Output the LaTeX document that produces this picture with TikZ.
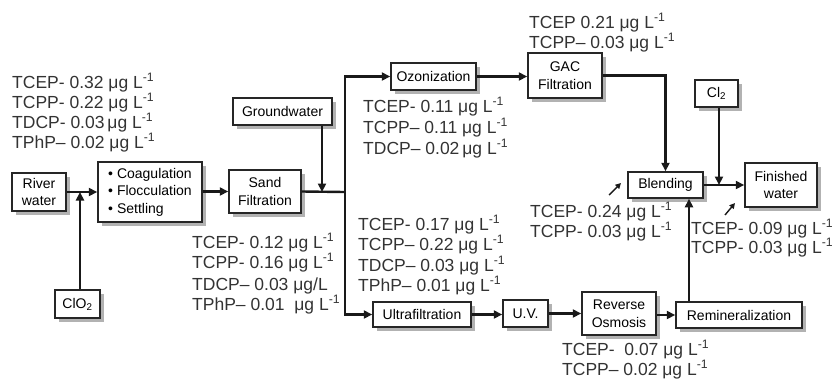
\documentclass[tikz,border=0pt]{standalone}
\usepackage{fontspec}
\setmainfont{Liberation Sans}
\usetikzlibrary{arrows.meta,shadows}
\newcommand\ugL{μg L\textsuperscript{-1}}
\newcommand\conc[4]{\node[lab] (#1) at (#2,#3) {#4};}
\begin{document}
\begin{tikzpicture}[x=1pt,y=-1pt,
  box/.style={draw=black!85,line width=1.5pt,fill=white,inner sep=0pt,align=center,
    font=\fontsize{14}{17.5}\selectfont,
    general shadow={fill=black!30,shadow xshift=3.5pt,shadow yshift=-3.5pt}},
  lab/.style={anchor=base west,inner sep=0pt,font=\fontsize{17.5}{20}\selectfont,text=black!80},
  arr/.style={line width=2.4pt,draw=black!90,-{Triangle[length=8.5pt,width=8pt]}},
  ln/.style={line width=2.4pt,draw=black!90},
  sarr/.style={line width=1.4pt,draw=black!90,-{Triangle[length=5.5pt,width=5.5pt]}}]
\useasboundingbox (0,0) rectangle (834,378);

% boxes
\node[box,minimum width=54pt,minimum height=38pt] (river) at (39,192) {River\\water};
\node[box,minimum width=104pt,minimum height=60pt,align=left] (coag) at (150,192) {• Coagulation\\• Flocculation\\• Settling};
\node[box,minimum width=45pt,minimum height=28pt] (clo2) at (77.5,304) {ClO\textsubscript{2}};
\node[box,minimum width=72pt,minimum height=43pt] (sand) at (265,191.5) {Sand\\Filtration};
\node[box,minimum width=99pt,minimum height=27pt] (ground) at (282.5,111.5) {Groundwater};
\node[box,minimum width=85pt,minimum height=27pt] (ozon) at (433.5,76.5) {Ozonization};
\node[box,minimum width=74pt,minimum height=45pt] (gac) at (565,75.5) {GAC\\Filtration};
\node[box,minimum width=75pt,minimum height=26pt] (blend) at (665.5,185) {Blending};
\node[box,minimum width=43pt,minimum height=27pt] (cl2) at (716.5,93.5) {Cl\textsubscript{2}};
\node[box,minimum width=72pt,minimum height=44pt] (fin) at (781,185) {Finished\\water};
\node[box,minimum width=126pt,minimum height=26pt] (remin) at (739,315) {Remineralization};
\node[box,minimum width=74pt,minimum height=43pt] (ro) at (619,313.5) {Reverse\\Osmosis};
\node[box,minimum width=45pt,minimum height=27pt] (uv) at (525.5,313.5) {U.V.};
\node[box,minimum width=98pt,minimum height=25pt] (ultra) at (422,314.5) {Ultrafiltration};

% junctions
\coordinate (j1) at (80,192);
\coordinate (j2) at (322,192);
\coordinate (j3) at (345,192);
\coordinate (j4) at (719,185);
\coordinate (j5) at (689,250);

% connectors
\draw[arr] (river.east) -- (river.east -| coag.west);
\draw[arr] (clo2.north -| j1) -- (j1);
\draw[arr] (coag.east |- sand.west) -- (sand.west);
\draw[ln] (sand.east) -- (j3);
\draw[arr] (ground.south -| j2) -- (j2);
\draw[arr] (j3) |- (ozon.west);
\draw[arr] (j3) |- (ultra.west);
\draw[arr] (ozon.east) -- (ozon.east -| gac.west);
\draw[arr] (gac.east) -| (blend.north);
\draw[arr] (cl2.south -| j4) -- (j4);
\draw[arr] (blend.east) -- (fin.west);
\draw[arr] (ultra.east) -- (ultra.east -| uv.west);
\draw[arr] (uv.east) -- (uv.east -| ro.west);
\draw[arr] (ro.east |- remin.west) -- (remin.west);
\draw[arr] (remin.north -| j5) -- (blend.south -| j5);

% small pointer arrows
\coordinate (p1a) at (609,195);
\coordinate (p1b) at (621,183);
\coordinate (p2a) at (725,215);
\coordinate (p2b) at (735,203);
\draw[sarr] (p1a) -- (p1b);
\draw[sarr] (p2a) -- (p2b);

% concentration labels
\conc{a1}{12}{88}{TCEP- 0.32 \ugL}
\conc{a2}{12}{108}{TCPP- 0.22 \ugL}
\conc{a3}{12}{128}{TDCP- 0.03\,\ugL}
\conc{a4}{12}{148}{TPhP– 0.02 \ugL}

\conc{b1}{192}{248}{TCEP- 0.12 \ugL}
\conc{b2}{192}{268}{TCPP- 0.16 \ugL}
\conc{b3}{192}{290}{TDCP– 0.03 μg/L}
\conc{b4}{192}{310}{TPhP– 0.01 \ \ugL}

\conc{c1}{363}{112}{TCEP- 0.11 \ugL}
\conc{c2}{363}{133}{TCPP– 0.11 \ugL}
\conc{c3}{363}{154}{TDCP– 0.02\,\ugL}

\conc{d1}{358}{230}{TCEP- 0.17 \ugL}
\conc{d2}{358}{250}{TCPP– 0.22 \ugL}
\conc{d3}{358}{271}{TDCP– 0.03 \ugL}
\conc{d4}{358}{291}{TPhP– 0.01 \ugL}

\conc{e1}{529}{28}{TCEP 0.21 \ugL}
\conc{e2}{529}{48}{TCPP– 0.03 \ugL}

\conc{f1}{530}{217}{TCEP- 0.24 \ugL}
\conc{f2}{530}{237}{TCPP- 0.03 \ugL}

\conc{g1}{691}{234}{TCEP- 0.09 \ugL}
\conc{g2}{691}{253}{TCPP- 0.03 \ugL}

\conc{h1}{562}{355}{TCEP- \ 0.07 \ugL}
\conc{h2}{562}{375}{TCPP– 0.02 \ugL}
\end{tikzpicture}
\end{document}
